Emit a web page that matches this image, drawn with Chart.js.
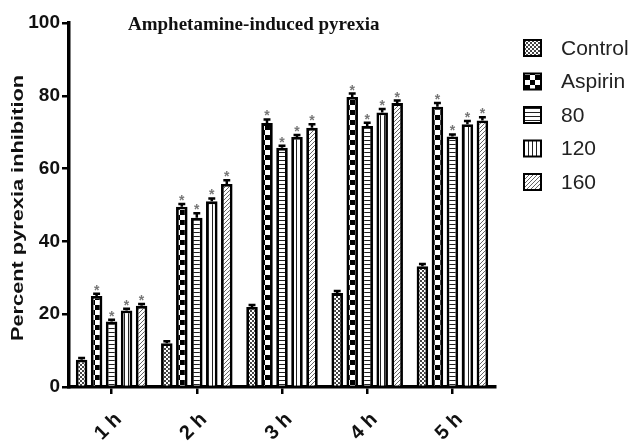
<!DOCTYPE html>
<html>
<head>
<meta charset="utf-8">
<script src="https://cdn.jsdelivr.net/npm/chart.js@4.4.1/dist/chart.umd.min.js"></script>
<style>
  html, body { margin: 0; padding: 0; background: #fff; }
  #wrap { width: 632px; height: 443px; }
</style>
</head>
<body>
<div id="wrap"><canvas id="chart"></canvas></div>
<script>
// Data
const categories = ['1 h', '2 h', '3 h', '4 h', '5 h'];
const seriesNames = ['Control', 'Aspirin', '80', '120', '160'];
const controlVals = [7.5, 12, 22, 25.8, 33.2];
const aspirinVals = [25, 49.5, 72.5, 79.7, 77];
const dose80Vals = [18, 46.5, 65.7, 71.7, 68.8];
const dose120Vals = [21, 51, 68.7, 75.4, 72.2];
const dose160Vals = [22.3, 55.8, 71.2, 78, 73.2];
const controlErr = [0.5, 0.6, 0.5, 0.6, 0.6];
const aspirinErr = [0.6, 0.8, 1, 0.9, 1];
const dose80Err = [0.5, 1.2, 0.6, 0.9, 0.6];
const dose120Err = [0.5, 0.8, 0.5, 1, 0.9];
const dose160Err = [0.5, 1, 1, 0.7, 0.9];
const sigMarks = ['', '*', '*', '*', '*'];
const yTicks = [0, 20, 40, 60, 80, 100];

const FONT = "'Liberation Sans', Arial, sans-serif";

// Fill patterns for the black & white bars
function makePattern(size, draw) {
    const c = document.createElement('canvas');
    c.width = size;
    c.height = size;
    const g = c.getContext('2d');
    g.fillStyle = '#fff';
    g.fillRect(0, 0, size, size);
    draw(g);
    return document.createElement('canvas').getContext('2d').createPattern(c, 'repeat');
}

const PATTERNS = [
    // fine mesh (control)
    makePattern(4, g => {
        g.fillStyle = '#444';
        g.fillRect(0, 0, 2, 2);
        g.fillRect(2, 2, 2, 2);
    }),
    // coarse checkerboard (aspirin)
    makePattern(10, g => {
        g.fillStyle = '#000';
        g.fillRect(0, 0, 5, 5);
        g.fillRect(5, 5, 5, 5);
    }),
    // horizontal lines (80)
    makePattern(4, g => {
        g.fillStyle = '#222';
        g.fillRect(0, 0, 4, 1);
    }),
    // vertical lines (120)
    makePattern(4, g => {
        g.fillStyle = '#222';
        g.fillRect(0, 0, 1, 4);
    }),
    // diagonal hatch (160)
    makePattern(4, g => {
        g.strokeStyle = '#666';
        g.lineWidth = 1;
        g.beginPath();
        g.moveTo(-1, 5); g.lineTo(5, -1);
        g.moveTo(-1, 1); g.lineTo(1, -1);
        g.moveTo(3, 5); g.lineTo(5, 3);
        g.stroke();
    })
];

const values = [controlVals, aspirinVals, dose80Vals, dose120Vals, dose160Vals];
const errors = [controlErr, aspirinErr, dose80Err, dose120Err, dose160Err];

const datasets = seriesNames.map((name, i) => ({
    label: name,
    data: values[i],
    errors: errors[i],
    mark: sigMarks[i],
    backgroundColor: PATTERNS[i],
    borderColor: '#000',
    borderWidth: 2.8,
    borderSkipped: 'bottom',
    categoryPercentage: 0.88,
    barPercentage: 0.77
}));

// Error bars with significance stars
const errorBarPlugin = {
    id: 'errorBars',
    afterDatasetsDraw(chart) {
        const ctx = chart.ctx;
        const yScale = chart.scales.y;
        ctx.save();
        chart.data.datasets.forEach((ds, di) => {
            const meta = chart.getDatasetMeta(di);
            meta.data.forEach((bar, i) => {
                const top = yScale.getPixelForValue(ds.data[i] + ds.errors[i]);
                const half = bar.width * 0.3;
                ctx.strokeStyle = '#000';
                ctx.lineWidth = 2.5;
                ctx.beginPath();
                ctx.moveTo(bar.x, bar.y);
                ctx.lineTo(bar.x, top);
                ctx.moveTo(bar.x - half, top);
                ctx.lineTo(bar.x + half, top);
                ctx.stroke();
                if (ds.mark) {
                    ctx.fillStyle = '#777';
                    ctx.font = 'bold 14px ' + FONT;
                    ctx.textAlign = 'center';
                    ctx.textBaseline = 'alphabetic';
                    ctx.fillText(ds.mark, bar.x, top + 1);
                }
            });
        });
        ctx.restore();
    }
};

// Title, y-axis title and legend drawn by hand
const decorPlugin = {
    id: 'decor',
    afterDraw(chart) {
        const ctx = chart.ctx;
        const area = chart.chartArea;
        ctx.save();

        // chart title
        ctx.fillStyle = '#111';
        ctx.font = "bold 19px 'Liberation Serif', 'Times New Roman', serif";
        ctx.textAlign = 'left';
        ctx.textBaseline = 'alphabetic';
        ctx.fillText('Amphetamine-induced pyrexia', area.left + 59, 30);

        // y-axis title
        ctx.save();
        ctx.translate(18, (area.top + area.bottom) / 2 + 3);
        ctx.rotate(-Math.PI / 2);
        ctx.scale(1.28, 1);
        ctx.font = 'bold 17px ' + FONT;
        ctx.textAlign = 'center';
        ctx.textBaseline = 'middle';
        ctx.fillText('Percent pyrexia inhibition', 0, 0);
        ctx.restore();

        // legend
        chart.data.datasets.forEach((ds, i) => {
            const cy = 48 + i * 33.5;
            ctx.fillStyle = ds.backgroundColor;
            ctx.fillRect(524, cy - 8, 17, 16);
            ctx.strokeStyle = '#000';
            ctx.lineWidth = 2;
            ctx.strokeRect(524, cy - 8, 17, 16);
            ctx.fillStyle = '#222';
            ctx.font = '21px ' + FONT;
            ctx.textAlign = 'left';
            ctx.textBaseline = 'middle';
            ctx.fillText(ds.label, 561, cy + 1);
        });
        ctx.restore();
    }
};

new Chart(document.getElementById('chart'), {
    type: 'bar',
    data: {
        labels: categories,
        datasets: datasets
    },
    options: {
        responsive: true,
        maintainAspectRatio: false,
        animation: false,
        devicePixelRatio: 1,
        layout: {
            padding: { left: 0, top: 23, right: 137, bottom: 0 }
        },
        scales: {
            x: {
                afterFit: s => { s.height = 56; },
                grid: {
                    offset: false,
                    drawOnChartArea: false,
                    drawTicks: true,
                    tickLength: 7,
                    color: '#000',
                    lineWidth: 2.5
                },
                border: { color: '#000', width: 3.5 },
                ticks: {
                    color: '#111',
                    font: { family: FONT, size: 20, weight: 'bold' },
                    minRotation: 45,
                    maxRotation: 45,
                    labelOffset: 7,
                    padding: 14
                }
            },
            y: {
                min: 0,
                max: 100,
                afterFit: s => { s.width = 69; },
                afterBuildTicks: s => { s.ticks = yTicks.map(v => ({ value: v })); },
                grid: {
                    drawOnChartArea: false,
                    drawTicks: true,
                    tickLength: 7,
                    color: '#000',
                    lineWidth: 2.5
                },
                border: { color: '#000', width: 3.5 },
                ticks: {
                    color: '#111',
                    font: { family: FONT, size: 19, weight: 'bold' },
                    padding: 2
                }
            }
        },
        plugins: {
            legend: { display: false },
            title: { display: false },
            tooltip: { enabled: false }
        }
    },
    plugins: [errorBarPlugin, decorPlugin]
});
</script>
</body>
</html>
